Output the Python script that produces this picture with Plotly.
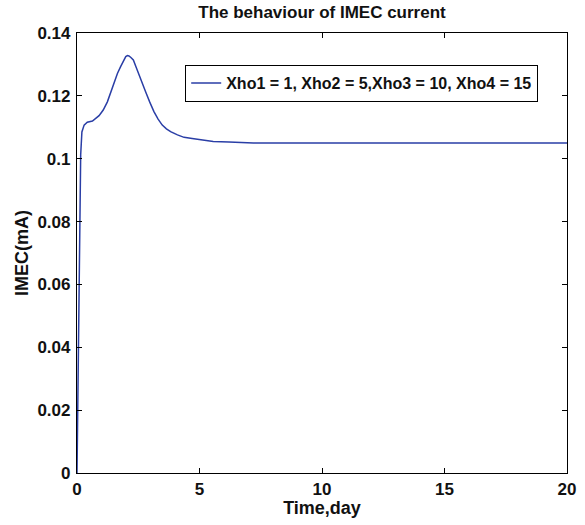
import plotly.graph_objects as go

time_day = [0, 0.04, 0.08, 0.12, 0.15, 0.2, 0.29, 0.42, 0.63, 0.90, 1.07, 1.24, 1.38, 1.51, 1.65, 1.78, 1.90, 1.99, 2.06, 2.12, 2.20, 2.30, 2.41, 2.53, 2.66, 2.80, 2.97, 3.14, 3.31, 3.48, 3.65, 3.82, 4.1, 4.37, 4.7, 5.11, 5.56, 6.2, 7.0, 7.2, 10, 15, 20]
imec_ma = [0, 0.030, 0.062, 0.090, 0.1012, 0.1085, 0.1107, 0.1116, 0.1120, 0.1137, 0.1155, 0.1181, 0.1212, 0.1245, 0.1271, 0.1293, 0.1313, 0.1325, 0.1328, 0.1327, 0.1322, 0.1314, 0.1292, 0.1266, 0.1240, 0.1213, 0.1180, 0.1150, 0.1126, 0.1107, 0.1095, 0.1086, 0.1076, 0.1068, 0.1064, 0.1060, 0.1055, 0.1053, 0.1052, 0.1050, 0.1050, 0.1050, 0.1050]
series_name = "Xho1 = 1, Xho2 = 5,Xho3 = 10, Xho4 = 15"

x_ticks = [0, 5, 10, 15, 20]
y_ticks = [0, 0.02, 0.04, 0.06, 0.08, 0.1, 0.12, 0.14]
y_tick_text = ["0", "0.02", "0.04", "0.06", "0.08", "0.1", "0.12", "0.14"]

font_family = "Liberation Sans, Arial, sans-serif"

fig = go.Figure()
fig.add_trace(go.Scatter(x=time_day, y=imec_ma, mode="lines", name=series_name,
                         line=dict(color="#2a3ea6", width=1.5)))

axis_common = dict(showline=True, linecolor="black", linewidth=1.2, mirror="ticks",
                   ticks="inside", ticklen=5, tickcolor="black", showgrid=False, zeroline=False,
                   tickfont=dict(family=font_family, size=17, color="#111111", weight="bold"))

fig.update_layout(
    width=585, height=525,
    margin=dict(l=77, r=18, t=33, b=52, autoexpand=False),
    paper_bgcolor="white", plot_bgcolor="white",
    title=dict(text="The behaviour of IMEC current", x=(77 + 567) / 2 / 585, xanchor="center",
               y=1 - 12 / 525, yanchor="middle",
               font=dict(family=font_family, size=17, color="#111111", weight="bold")),
    xaxis=dict(range=[0, 20], tickvals=x_ticks, ticklabelstandoff=0, **axis_common,
               title=dict(text="Time,day", standoff=2,
                          font=dict(family=font_family, size=18, color="#111111", weight="bold"))),
    yaxis=dict(range=[0, 0.14], tickvals=y_ticks, ticktext=y_tick_text, ticklabelstandoff=2, **axis_common,
               title=dict(text="IMEC(mA)", standoff=4,
                          font=dict(family=font_family, size=18, color="#111111", weight="bold"))),
    showlegend=True,
    legend=dict(x=(185 - 77) / 490, y=(473 - 65) / 440, xanchor="left", yanchor="top",
                bordercolor="black", borderwidth=1.2, bgcolor="white",
                font=dict(family=font_family, size=16, color="#111111", weight="bold"),
                itemwidth=30, tracegroupgap=0),
)

fig.write_html("out.html", config={"displayModeBar": False},
               post_script="document.body.style.margin='0px';")
